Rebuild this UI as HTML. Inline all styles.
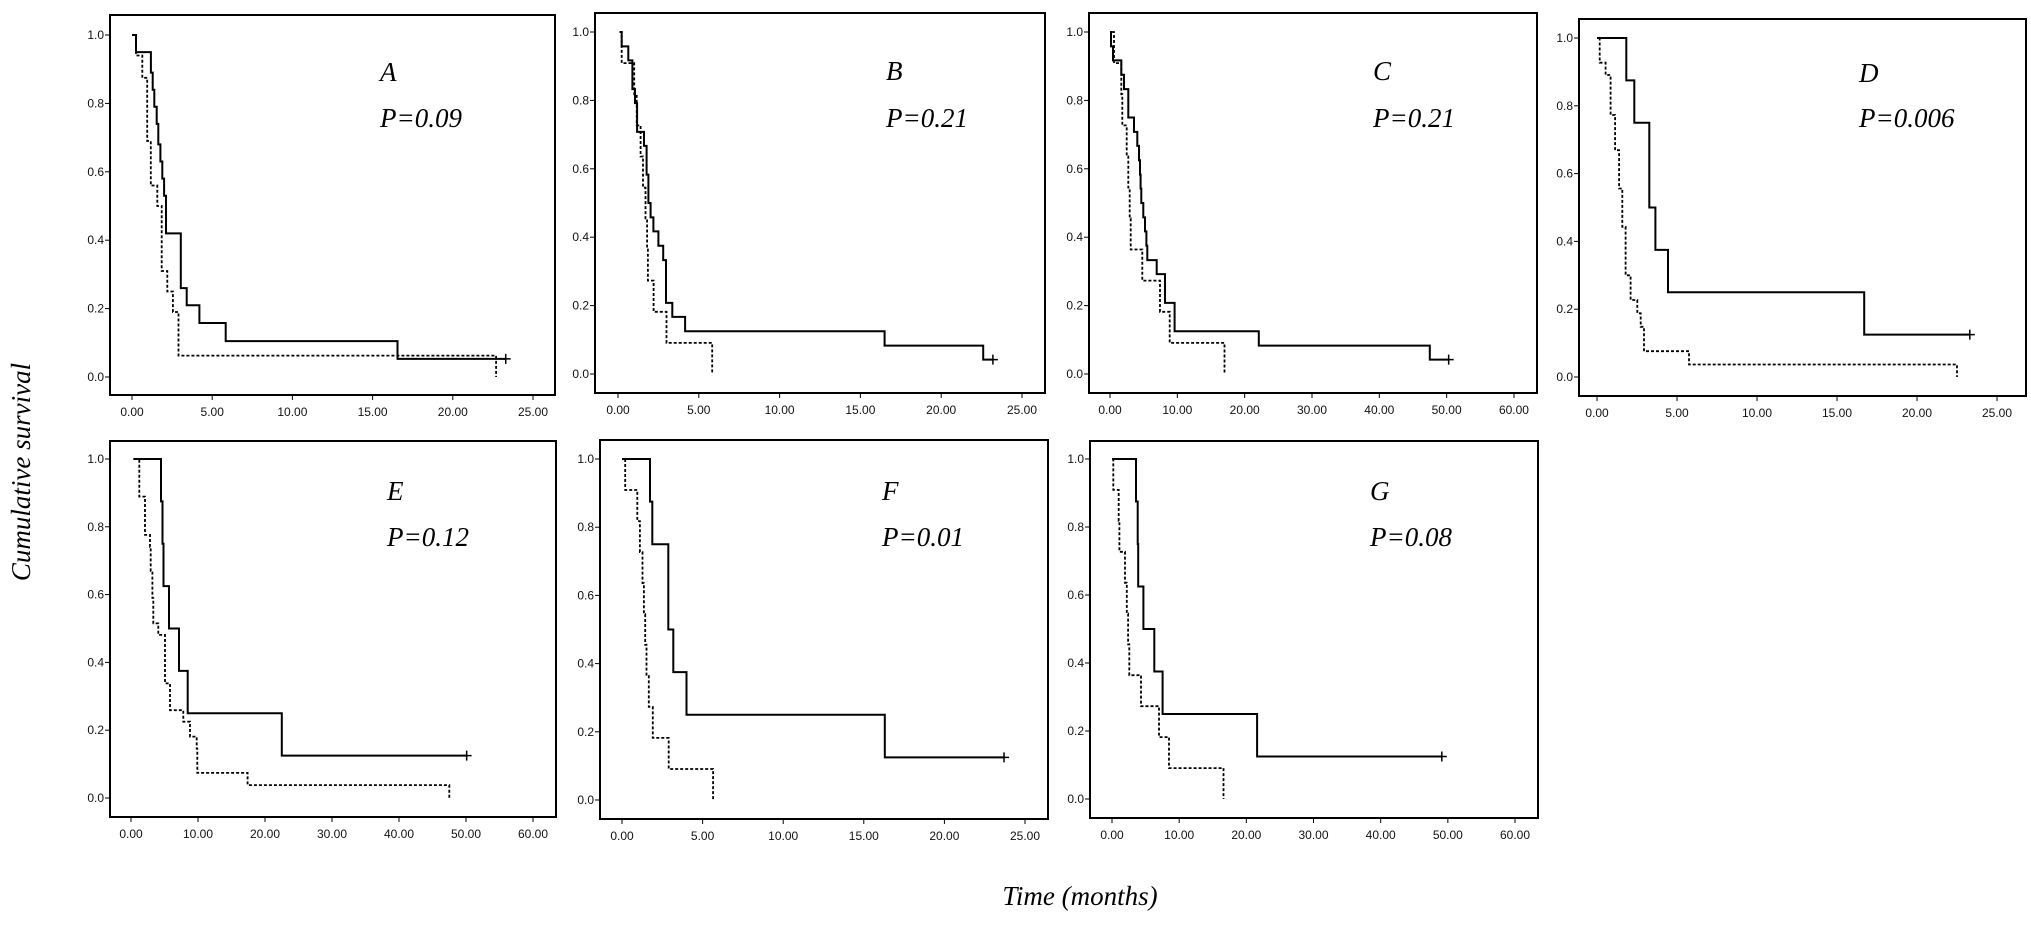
<!DOCTYPE html>
<html><head><meta charset="utf-8"><style>
html,body{margin:0;padding:0;background:#fff;}
svg{display:block;}
.tk{font-family:"Liberation Sans",Arial,sans-serif;font-size:12px;fill:#111;}
.lab{font-family:"Liberation Serif","Times New Roman",serif;font-style:italic;font-size:27px;fill:#000;}
</style></head><body>
<svg id="fig" width="2031" height="925" viewBox="0 0 2031 925" xmlns="http://www.w3.org/2000/svg">
<text class="lab" transform="translate(30,472) rotate(-90)" text-anchor="middle" font-size="29">Cumulative survival</text>
<text class="lab" x="1080" y="905" text-anchor="middle" font-size="28">Time (months)</text>
</svg>
<script>
// ---- data arrays (months, survival) ----
const xTicks25 = [0,5,10,15,20,25];
const xTicks60 = [0,10,20,30,40,50,60];
const yTicks = [0,0.2,0.4,0.6,0.8,1.0];

const aSolidT = [0.25,1.18,1.29,1.39,1.54,1.64,1.77,1.89,2.0,2.12,3.04,3.41,4.2,5.84,16.55];
const aSolidS = [0.95,0.89,0.84,0.79,0.74,0.68,0.63,0.58,0.53,0.42,0.26,0.21,0.158,0.105,0.053];
const aDashT = [0.25,0.64,0.95,1.17,1.58,1.85,2.2,2.55,2.9,22.7];
const aDashS = [0.94,0.875,0.69,0.56,0.5,0.31,0.25,0.19,0.0625,0];

const bSolidT = [0.23,0.64,0.89,1.05,1.18,1.61,1.77,1.88,2.02,2.19,2.5,2.8,2.97,3.36,4.15,16.5,22.6];
const bSolidS = [0.958,0.917,0.833,0.792,0.708,0.667,0.583,0.5,0.458,0.417,0.375,0.333,0.208,0.167,0.125,0.083,0.042];
const bDashT = [0.23,1.0,1.16,1.4,1.55,1.7,1.8,1.85,2.2,3.0,5.83];
const bDashS = [0.909,0.818,0.727,0.636,0.545,0.455,0.364,0.273,0.182,0.091,0];

const cSolidT = [0.15,0.45,1.68,2.08,2.72,3.56,4.06,4.3,4.45,4.55,4.65,4.95,5.2,5.4,5.54,6.93,8.17,9.6,22.1,47.5];
const cSolidS = [0.958,0.917,0.875,0.833,0.75,0.708,0.667,0.625,0.583,0.542,0.5,0.458,0.417,0.375,0.333,0.292,0.208,0.125,0.083,0.042];
const cDashT = [0.59,1.68,1.83,2.48,2.72,2.92,3.07,4.8,7.43,8.86,17.0];
const cDashS = [0.909,0.818,0.727,0.636,0.545,0.455,0.364,0.273,0.182,0.091,0];

const dSolidT = [1.83,2.33,3.27,3.65,4.44,16.7];
const dSolidS = [0.875,0.75,0.5,0.375,0.25,0.125];
const dDashT = [0.17,0.54,0.85,1.13,1.38,1.58,1.79,2.1,2.52,2.73,2.94,5.75,22.5];
const dDashS = [0.927,0.891,0.773,0.669,0.556,0.443,0.3,0.227,0.188,0.148,0.076,0.037,0];

const eSolidT = [4.48,4.7,4.85,5.67,7.16,8.46,22.5];
const eSolidS = [0.875,0.75,0.625,0.5,0.375,0.25,0.125];
const eDashT = [1.24,2.09,2.84,2.94,3.19,3.33,4.08,5.07,5.82,7.81,8.81,9.8,9.9,17.4,47.5];
const eDashS = [0.889,0.776,0.741,0.67,0.59,0.515,0.481,0.338,0.259,0.225,0.181,0.146,0.074,0.038,0];

const fSolidT = [1.74,1.88,2.87,3.18,4.0,16.3];
const fSolidS = [0.875,0.75,0.5,0.375,0.25,0.125];
const fDashT = [0.2,0.95,1.11,1.27,1.36,1.44,1.52,1.66,1.91,2.9,5.65];
const fDashS = [0.909,0.818,0.727,0.636,0.545,0.455,0.364,0.273,0.182,0.091,0];

const gSolidT = [3.57,3.82,3.9,4.67,6.3,7.54,21.6];
const gSolidS = [0.875,0.75,0.625,0.5,0.375,0.25,0.125];
const gDashT = [0.2,1.0,1.1,1.94,2.2,2.4,2.58,4.32,7.0,8.49,16.6];
const gDashS = [0.909,0.818,0.727,0.636,0.545,0.455,0.364,0.273,0.182,0.091,0];

const labels = ["A","B","C","D","E","F","G"];
const pValues = ["P=0.09","P=0.21","P=0.21","P=0.006","P=0.12","P=0.01","P=0.08"];
const solidEnd = [23.3,23.2,50.3,23.3,50.1,23.7,49.1];
const solidStart = [0,0.1,0,0,0.35,0,0];
const dashStart = [0,0.1,0.3,0.2,0.6,0.2,0.1];

// ---- layout ----
const panels = [
 {fx:110,fy:15,fw:445,fh:380,x0:132,ppm:16.04,y0:377,y1:35,ticks:xTicks25,lx:380,ly:81,py:127,st:aSolidT,ss:aSolidS,dt:aDashT,ds:aDashS},
 {fx:595,fy:13,fw:450,fh:380,x0:618,ppm:16.16,y0:374,y1:32,ticks:xTicks25,lx:886,ly:80,py:127,st:bSolidT,ss:bSolidS,dt:bDashT,ds:bDashS},
 {fx:1089,fy:13,fw:448,fh:380,x0:1110,ppm:6.733,y0:374,y1:32,ticks:xTicks60,lx:1373,ly:80,py:127,st:cSolidT,ss:cSolidS,dt:cDashT,ds:cDashS},
 {fx:1579,fy:19,fw:447,fh:377,x0:1597,ppm:16.0,y0:377,y1:38,ticks:xTicks25,lx:1859,ly:82,py:127,st:dSolidT,ss:dSolidS,dt:dDashT,ds:dDashS},
 {fx:110,fy:441,fw:446,fh:376,x0:131,ppm:6.7,y0:798,y1:459,ticks:xTicks60,lx:387,ly:500,py:546,st:eSolidT,ss:eSolidS,dt:eDashT,ds:eDashS},
 {fx:600,fy:440,fw:448,fh:379,x0:622,ppm:16.12,y0:800,y1:459,ticks:xTicks25,lx:882,ly:500,py:546,st:fSolidT,ss:fSolidS,dt:fDashT,ds:fDashS},
 {fx:1090,fy:441,fw:448,fh:377,x0:1112,ppm:6.717,y0:799,y1:459,ticks:xTicks60,lx:1370,ly:500,py:546,st:gSolidT,ss:gSolidS,dt:gDashT,ds:gDashS}
];
const NS = "http://www.w3.org/2000/svg";
const svg = document.getElementById("fig");
function mk(tag, attrs, parent){const e=document.createElementNS(NS,tag);for(const k in attrs)e.setAttribute(k,attrs[k]);(parent||svg).appendChild(e);return e;}

function stepPath(xs, ys, t, s, start, end){
  let d = "M"+xs(start)+","+ys(1);
  for(let i=0;i<t.length;i++){
    d += " H"+xs(t[i]).toFixed(1)+" V"+ys(s[i]).toFixed(1);
  }
  if(end!==null) d += " H"+xs(end).toFixed(1);
  return d;
}

panels.forEach((p,i)=>{
  const g = mk("g",{});
  
  
  const xs = t => p.x0 + t*p.ppm;
  const ys = v => p.y0 - v*(p.y0-p.y1);
  const fr = mk("rect",{x:p.fx,y:p.fy,width:p.fw,height:p.fh,fill:"none",stroke:"#000","stroke-width":2},g);
  
  
  yTicks.forEach(v=>{
    mk("line",{x1:p.fx-5,x2:p.fx,y1:ys(v),y2:ys(v),stroke:"#000","stroke-width":1},g);
    const tx = mk("text",{x:p.fx-6,y:ys(v)+4,"text-anchor":"end",class:"tk"},g);
    tx.textContent = v.toFixed(1);
    
    
  });
  p.ticks.forEach(v=>{
    mk("line",{x1:xs(v),x2:xs(v),y1:p.fy+p.fh,y2:p.fy+p.fh+5,stroke:"#000","stroke-width":1},g);
    const tx = mk("text",{x:xs(v),y:p.fy+p.fh+21,"text-anchor":"middle",class:"tk"},g);
    tx.textContent = v.toFixed(2);
    
    
  });
  const dp = mk("path",{d:stepPath(xs,ys,p.dt,p.ds,dashStart[i],null),fill:"none",stroke:"#000","stroke-width":1.8,"stroke-dasharray":"3,2"},g);
  
  
  const sp = mk("path",{d:stepPath(xs,ys,p.st,p.ss,solidStart[i],solidEnd[i]),fill:"none",stroke:"#000","stroke-width":2},g);
  
  
  const ex = xs(solidEnd[i]), ey = ys(p.ss[p.ss.length-1]);
  const cm = mk("path",{d:"M"+(ex-5)+","+ey+" H"+(ex+5)+" M"+ex+","+(ey-5)+" V"+(ey+5),stroke:"#000","stroke-width":1.5},g);
  
  
  const l = mk("text",{x:p.lx,y:p.ly,class:"lab"},g);
  l.textContent = labels[i];
  
  
  const pv = mk("text",{x:p.lx,y:p.py,class:"lab"},g);
  pv.textContent = pValues[i];
  
  
});
</script>
</body></html>
